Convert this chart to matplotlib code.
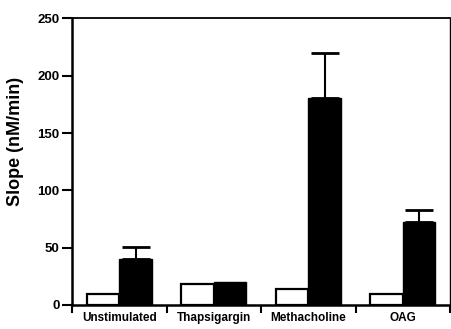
import matplotlib
matplotlib.use("Agg")
import matplotlib.pyplot as plt
import numpy as np

categories = ["Unstimulated", "Thapsigargin", "Methacholine", "OAG"]
white_vals = [10, 18, 14, 10]
black_vals = [40, 20, 181, 72]
black_err = [11, 0, 39, 11]
y_ticks = [0, 50, 100, 150, 200, 250]

plt.rcParams['font.family'] = ['Liberation Sans', 'DejaVu Sans']

fig = plt.figure(figsize=(4.51, 3.29), dpi=100)
ax = fig.add_axes([0.16, 0.073, 0.838, 0.871])

x = np.arange(len(categories))
w = 0.345
ax.bar(x - w/2, white_vals, w, color='white', edgecolor='black', linewidth=1.6, zorder=2)
ax.bar(x + w/2, black_vals, w, color='black', edgecolor='black', linewidth=1.0, zorder=2)
errs = np.array(black_err)
mask = errs > 0
ax.errorbar((x + w/2)[mask], np.array(black_vals)[mask],
            yerr=[np.zeros(mask.sum()), errs[mask]],
            fmt='none', ecolor='black', elinewidth=1.5, capsize=10, capthick=2, zorder=3)

ax.set_xlim(-0.5, len(categories) - 0.5)
ax.set_ylim(0, 250)
ax.set_yticks(y_ticks)
ax.set_yticklabels([str(t) for t in y_ticks], fontsize=9.5, fontweight='bold')
ax.set_xticks(x)
ax.set_xticklabels(categories, fontsize=8.5, fontweight='bold')
ax.tick_params(axis='x', which='major', length=0, pad=5)
ax.set_xticks(np.arange(len(categories) + 1) - 0.5, minor=True)
ax.tick_params(axis='x', which='minor', length=6, width=1.5, direction='out')
ax.tick_params(axis='y', length=7, width=1.5, direction='out', pad=2)
ax.set_ylabel("Slope (nM/min)", fontsize=13, fontweight='bold')
ax.yaxis.set_label_coords(-0.128, 0.569)

ax.spines['left'].set_linewidth(1.8)
ax.spines['bottom'].set_linewidth(1.8)
ax.spines['top'].set_linewidth(1.3)
ax.spines['right'].set_linewidth(1.0)

fig.savefig("out.png", dpi=100)
